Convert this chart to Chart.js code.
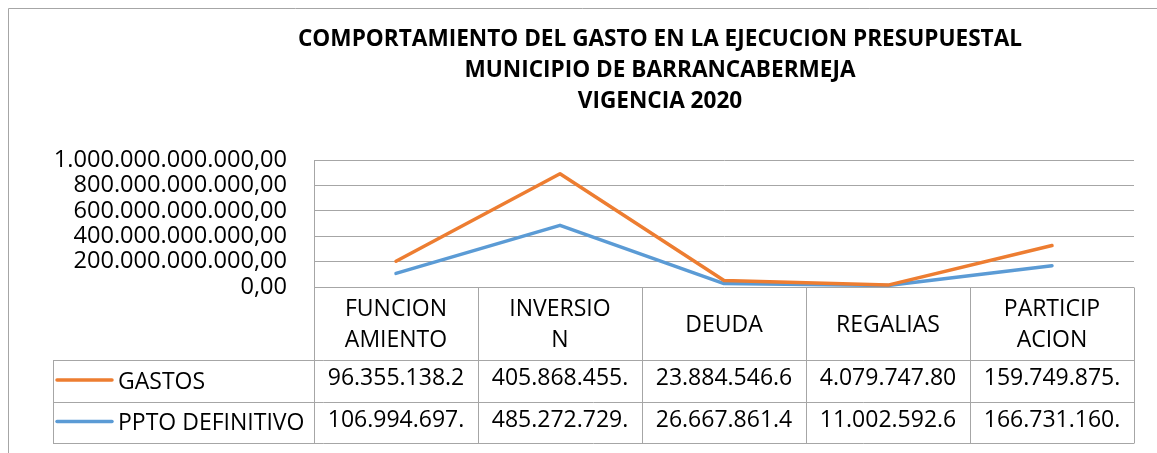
<!DOCTYPE html>
<html>
<head>
<meta charset="utf-8">
<script src="https://cdn.jsdelivr.net/npm/chart.js@4/dist/chart.umd.min.js"></script>
<style>
  html, body { margin: 0; padding: 0; background: #fff; }
  canvas { display: block; }
</style>
</head>
<body>
<canvas id="chart" width="1157" height="453"></canvas>
<script>
// Budget execution by spending line, 2020 (pesos)
const titleLines = [
  'COMPORTAMIENTO DEL GASTO EN LA EJECUCION PRESUPUESTAL',
  'MUNICIPIO DE BARRANCABERMEJA',
  'VIGENCIA 2020'
];
const categories = [['FUNCION', 'AMIENTO'], ['INVERSIO', 'N'], 'DEUDA', 'REGALIAS', ['PARTICIP', 'ACION']];
const gastos = [96355138200, 405868455000, 23884546600, 4079747800, 159749875000];
const pptoDefinitivo = [106994697000, 485272729000, 26667861400, 11002592600, 166731160000];
const seriesNames = ['GASTOS', 'PPTO DEFINITIVO'];
const yTicks = [0, 200000000000, 400000000000, 600000000000, 800000000000, 1000000000000];

const ORANGE = '#ED7D31';
const BLUE = '#5B9BD5';
const GRID = '#a6a6a6';
const FONT = '"Open Sans", "Noto Sans", sans-serif';

// 1.000.000,00 style number
function fmt(v) {
  const s = Math.round(v).toString();
  return s.replace(/\B(?=(\d{3})+(?!\d))/g, '.') + ',00';
}

// outer frame of the chart object
const framePlugin = {
  id: 'frame',
  beforeDraw(chart) {
    const ctx = chart.ctx;
    ctx.save();
    ctx.strokeStyle = GRID;
    ctx.lineWidth = 1;
    ctx.beginPath();
    ctx.moveTo(8.5, chart.height);
    ctx.lineTo(8.5, 8.5);
    ctx.lineTo(chart.width, 8.5);
    ctx.stroke();
    ctx.restore();
  }
};

// title block spans from the data-table legend column to the plot's right edge
const titleSpanPlugin = {
  id: 'titleSpan',
  afterLayout(chart) {
    const t = chart.titleBlock;
    if (t) {
      t.left = 186;
      t.right = chart.chartArea.right;
    }
  }
};

// draw the stacked lines with GASTOS above PPTO
const drawOrderPlugin = {
  id: 'drawOrder',
  beforeDatasetsDraw(chart) {
    const a = chart.chartArea;
    const ctx = chart.ctx;
    [0, 1].forEach(i => {
      const meta = chart.getDatasetMeta(i);
      if (!meta.visible) return;
      ctx.save();
      ctx.beginPath();
      ctx.rect(a.left - 6, a.top - 6, a.width + 12, a.height + 12);
      ctx.clip();
      meta.controller.draw();
      ctx.restore();
    });
    return false;
  }
};

// data table under the plot: category header, legend keys and values
const dataTablePlugin = {
  id: 'dataTable',
  afterDraw(chart) {
    const ctx = chart.ctx;
    const xs = chart.scales.x;
    const a = chart.chartArea;
    const n = categories.length;
    const colW = xs.getPixelForValue(1) - xs.getPixelForValue(0);
    const left = xs.getPixelForValue(0) - colW / 2;
    const right = xs.getPixelForValue(n - 1) + colW / 2;
    const headTop = a.bottom;
    const headH = 73;
    const rowH = 41.5;
    const row1 = headTop + headH;
    const row2 = row1 + rowH;
    const bottom = row2 + rowH;
    const legLeft = 53;

    ctx.save();
    ctx.strokeStyle = GRID;
    ctx.lineWidth = 1;
    const px = v => Math.round(v) + 0.5;
    ctx.beginPath();
    // horizontal rules
    [row1, row2, bottom].forEach(y => {
      ctx.moveTo(legLeft, px(y));
      ctx.lineTo(right, px(y));
    });
    // column rules
    for (let i = 0; i <= n; i++) {
      const x = px(left + i * colW);
      ctx.moveTo(x, px(headTop));
      ctx.lineTo(x, px(bottom));
    }
    // legend cell left edge
    ctx.moveTo(px(legLeft), px(row1));
    ctx.lineTo(px(legLeft), px(bottom));
    ctx.stroke();

    ctx.fillStyle = '#000';
    ctx.font = '23px ' + FONT;
    ctx.textAlign = 'center';
    ctx.textBaseline = 'alphabetic';

    // category header
    const lineH = 31.7;
    categories.forEach((c, i) => {
      const lines = Array.isArray(c) ? c : [c];
      const cx = xs.getPixelForValue(i);
      const first = headTop + headH / 2 + 8 - (lines.length - 1) * lineH / 2;
      lines.forEach((t, k) => ctx.fillText(t, cx, first + k * lineH));
    });

    // values, cut to the cell width
    const maxW = colW - 20;
    const rows = [
      { name: seriesNames[0], values: gastos, color: ORANGE, top: row1 },
      { name: seriesNames[1], values: pptoDefinitivo, color: BLUE, top: row2 }
    ];
    rows.forEach(r => {
      r.values.forEach((v, i) => {
        let s = fmt(v);
        while (s.length > 1 && ctx.measureText(s).width > maxW) s = s.slice(0, -1);
        ctx.fillText(s, xs.getPixelForValue(i), r.top + 25);
      });
    });

    // legend keys
    ctx.textAlign = 'left';
    rows.forEach(r => {
      const y = r.top + 20;
      ctx.strokeStyle = r.color;
      ctx.lineWidth = 3.5;
      ctx.lineCap = 'round';
      ctx.beginPath();
      ctx.moveTo(57, y);
      ctx.lineTo(112, y);
      ctx.stroke();
      ctx.fillText(r.name, 118, r.top + 28.5);
    });
    ctx.restore();
  }
};

new Chart(document.getElementById('chart'), {
  type: 'line',
  data: {
    labels: categories,
    datasets: [
      {
        label: seriesNames[1],
        data: pptoDefinitivo,
        borderColor: BLUE,
        backgroundColor: BLUE,
        borderWidth: 3.5,
        borderCapStyle: 'round',
        borderJoinStyle: 'round',
        pointRadius: 0,
        pointHoverRadius: 0,
        tension: 0,
        fill: false
      },
      {
        label: seriesNames[0],
        data: gastos,
        borderColor: ORANGE,
        backgroundColor: ORANGE,
        borderWidth: 3.5,
        borderCapStyle: 'round',
        borderJoinStyle: 'round',
        pointRadius: 0,
        pointHoverRadius: 0,
        tension: 0,
        fill: false
      }
    ]
  },
  options: {
    responsive: false,
    animation: false,
    devicePixelRatio: 1,
    layout: { padding: { left: 8, right: 23, top: 0, bottom: 166 } },
    plugins: {
      legend: { display: false },
      tooltip: { enabled: false },
      title: {
        display: true,
        text: titleLines,
        color: '#000',
        font: { family: FONT, size: 22.6, weight: 'bold', lineHeight: 31 / 22.6 },
        padding: { top: 24.5, bottom: 42.5 }
      }
    },
    scales: {
      x: {
        type: 'category',
        display: false,
        offset: true
      },
      y: {
        stacked: true,
        min: 0,
        max: 1000000000000,
        afterBuildTicks(scale) { scale.ticks = yTicks.map(v => ({ value: v })); },
        afterFit(scale) { scale.width = 306; },
        grid: { color: GRID, lineWidth: 1, drawTicks: false },
        border: { display: true, color: GRID, width: 1 },
        ticks: {
          autoSkip: false,
          padding: 27,
          color: '#000',
          font: { family: FONT, size: 23.6 },
          callback: v => fmt(v)
        }
      }
    }
  },
  plugins: [framePlugin, titleSpanPlugin, drawOrderPlugin, dataTablePlugin]
});
</script>
</body>
</html>
